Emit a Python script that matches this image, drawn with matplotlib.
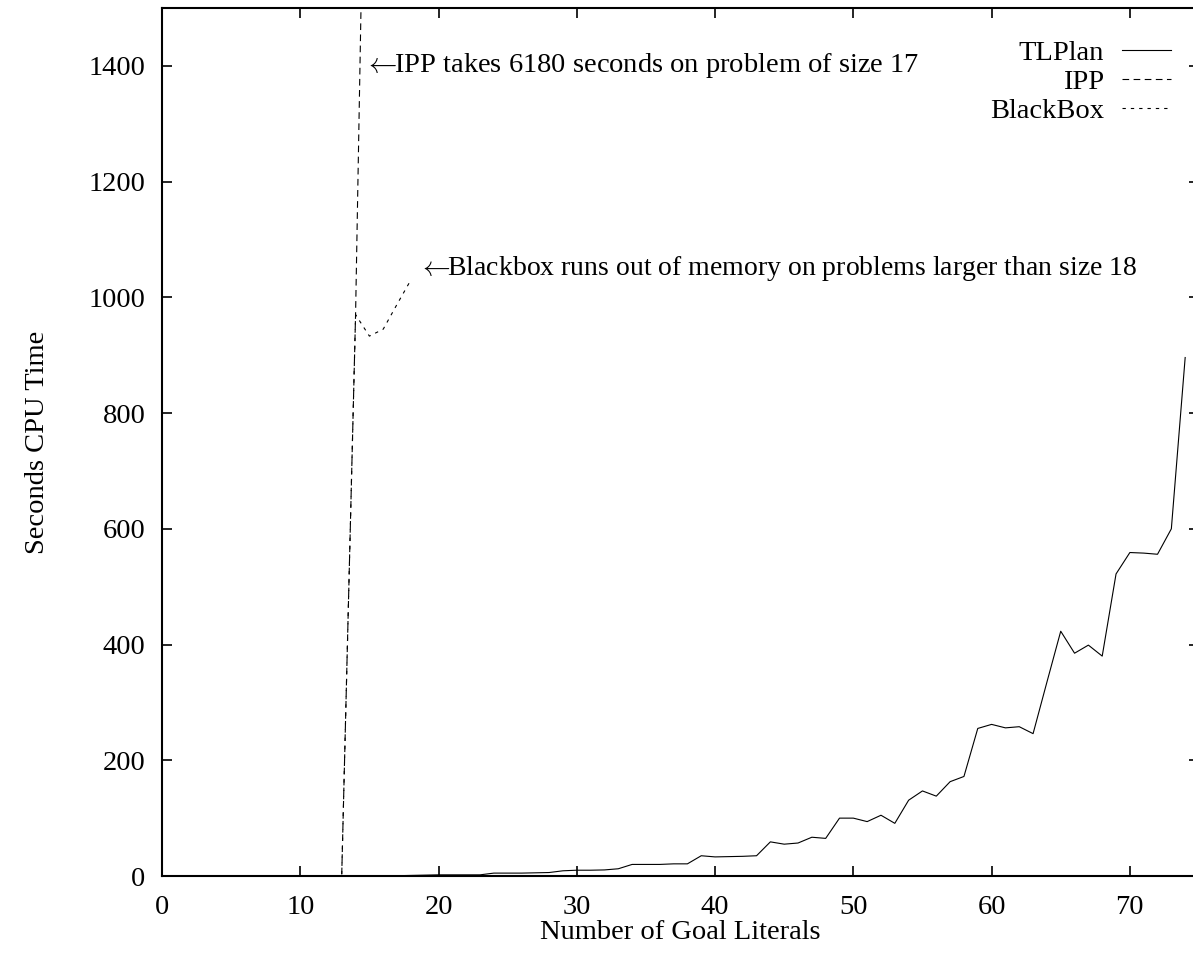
import matplotlib
matplotlib.use("Agg")
import matplotlib.pyplot as plt

plt.rcParams['font.family'] = ['Liberation Serif', 'DejaVu Serif']
plt.rcParams['mathtext.fontset'] = 'cm'

# ---- data ----
tlplan_x = list(range(1, 75))
tlplan_y = [0, 0, 0, 0, 0, 0, 0, 0, 0, 0,
            0, 0, 0, 0, 0, 0, 0.5, 1, 1.5, 2,
            2, 2, 2, 5, 5, 5, 5.5, 6, 9, 10,
            10, 10.5, 12.5, 20, 20, 20, 21, 21, 35, 33,
            33.5, 34, 35, 59, 55, 57, 67, 65, 100, 100,
            94, 105, 91, 131, 147, 138, 163, 172, 255, 262,
            256, 258, 246, 335, 423, 385, 399, 380, 522, 559,
            558, 556, 600, 896]
ipp_x = [13, 14, 15, 16, 17]
ipp_y = [3, 970, 2320, 3900, 6180]
bb_x = [13, 14, 15, 16, 17, 18]
bb_y = [3, 970, 933, 945, 988, 1030]

x_ticks = [0, 10, 20, 30, 40, 50, 60, 70]
y_ticks = [0, 200, 400, 600, 800, 1000, 1200, 1400]

ipp_note = r"$\leftarrow\!\!$IPP takes 6180 seconds on problem of size 17"
bb_note = r"$\leftarrow\!\!$Blackbox runs out of memory on problems larger than size 18"
ipp_note_pos = (14.6, 1400)
bb_note_pos = (18.5, 1050)

FS = 20.5

fig = plt.figure(figsize=(11.93, 9.55), dpi=100)
W, H = 1193, 955
left, right, top, bottom = 162, 1199, 8, 876
ax = fig.add_axes([left / W, (H - bottom) / H, (right - left) / W, (bottom - top) / H])
ax.set_xlim(0, 75)
ax.set_ylim(0, 1500)

ax.plot(tlplan_x, tlplan_y, color='black', lw=0.8, label='TLPlan')
ax.plot(ipp_x, ipp_y, color='black', lw=0.8, dashes=(6, 4), label='IPP')
ax.plot(bb_x, bb_y, color='black', lw=0.8, dashes=(3, 4.5), label='BlackBox')

ax.set_xticks(x_ticks)
ax.set_yticks(y_ticks)
ax.tick_params(direction='in', length=7.5, width=1.2, labelsize=FS,
               top=True, right=True, colors='black')
ax.tick_params(axis='y', pad=12)
ax.tick_params(axis='x', pad=14)
for s in ax.spines.values():
    s.set_linewidth(1.5)

ax.set_xlabel('Number of Goal Literals', fontsize=FS, labelpad=0)
ax.set_ylabel('Seconds CPU Time', fontsize=FS, labelpad=28)

ax.text(ipp_note_pos[0], ipp_note_pos[1], ipp_note, fontsize=FS, ha='left', va='center')
ax.text(bb_note_pos[0], bb_note_pos[1], bb_note, fontsize=20, ha='left', va='center')

leg = ax.legend(loc='upper right', bbox_to_anchor=(0.973, 0.963), frameon=False,
                markerfirst=False, fontsize=FS, handlelength=1.72, handletextpad=0.63,
                labelspacing=0.1, borderpad=0, borderaxespad=0)

fig.savefig('out.png', dpi=100)
